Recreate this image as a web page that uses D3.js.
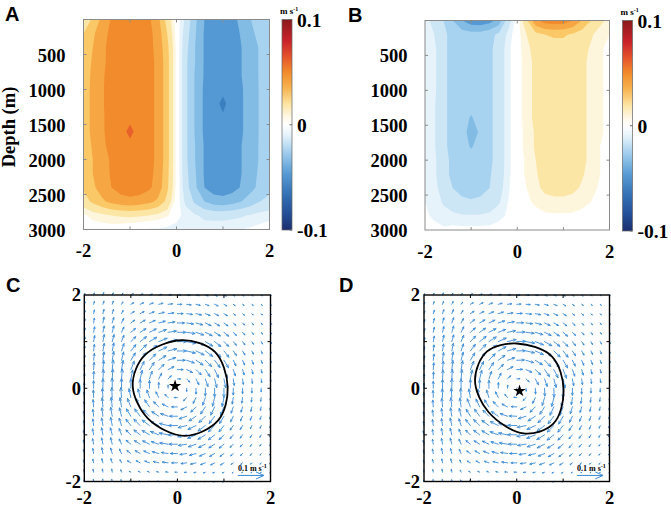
<!DOCTYPE html>
<html><head><meta charset="utf-8">
<script src="https://cdn.jsdelivr.net/npm/d3@7"></script>
<style>body{margin:0;background:#fff}svg{display:block}</style>
</head><body>
<svg id="chart" width="671" height="507"></svg>
<script>
// ---------------- DATA ----------------
const xGrid = [-2,-1.8,-1.6,-1.4,-1.2,-1,-0.8,-0.6,-0.4,-0.2,0,0.2,0.4,0.6,0.8,1,1.2,1.4,1.6,1.8,2];
const depthGrid = [0,200,400,600,800,1000,1200,1400,1600,1800,2000,2200,2400,2600,2800,3000];
const vecY = [2,1.8,1.6,1.4,1.2,1,0.8,0.6,0.4,0.2,0,-0.2,-0.4,-0.6,-0.8,-1,-1.2,-1.4,-1.6,-1.8,-2];

// panel A velocity section (mm/s), rows = depthGrid, cols = xGrid
const velA = [
[12,22,33,41,45,46,45,42,33,16,0,-12,-28,-40,-45,-46,-43,-37,-30,-24,-20],
[20,28,37,42,46,47,46,43,36,20,1,-15,-29,-41,-46,-47,-44,-39,-32,-27,-23],
[24,30,38,43,46,47,46,43,37,23,2,-17,-30,-41,-46,-47,-45,-40,-34,-29,-25],
[25,31,38,43,46,47,46,43,38,24,2,-18,-30,-41,-46,-47,-45,-40,-34,-29,-25],
[25,32,39,43,46,47,46,43,38,24,2,-18,-31,-41,-46,-47,-45,-40,-34,-29,-25],
[26,32,39,44,46,47,46,43,38,24,2,-18,-31,-42,-47,-48,-46,-41,-35,-29,-25],
[26,32,39,44,47,48,47,43,38,24,2,-18,-31,-42,-47,-52,-46,-41,-35,-29,-25],
[26,32,39,43,47,48,47,43,38,24,2,-18,-31,-42,-47,-49,-46,-41,-35,-29,-25],
[26,32,39,43,47,52,47,43,38,24,2,-18,-31,-42,-47,-48,-46,-41,-35,-29,-25],
[25,31,38,43,46,48,47,43,38,24,2,-18,-30,-41,-46,-47,-45,-40,-34,-29,-25],
[24,30,37,41,45,47,46,43,38,24,2,-18,-30,-41,-46,-47,-45,-40,-34,-29,-25],
[24,30,36,41,45,47,46,43,37,23,2,-17,-29,-41,-46,-47,-45,-40,-34,-28,-24],
[22,28,35,40,44,46,45,42,36,22,2,-16,-28,-40,-45,-46,-44,-39,-33,-27,-23],
[15,22,28,33,36,37,36,33,28,17,0,-12,-22,-30,-35,-36,-34,-30,-25,-20,-17],
[3,6,8,10,11,12,11,10,8,5,-2,-6,-9,-12,-13,-13,-12,-11,-9,-7,-6],
[0,0,0,0,-1,-3,-4,-5,-5,-6,-6,-6,-6,-6,-5,-5,-5,-4,-3,-2,-1]
];
// panel B velocity section (mm/s)
const velB = [
[-8,-12,-20,-30,-40,-46,-47,-44,-36,-15,0,18,38,45,47,46,40,30,20,12,8],
[-7,-10,-18,-23,-25,-26,-26,-23,-18,-8,1,10,17,20,21,21,19,15,11,7,4],
[-6,-8,-18,-23,-25,-26,-25,-22,-16,-6,1,8,13,16,17,17,16,13,9,5,2],
[-6,-8,-18,-23,-25,-26,-25,-22,-16,-6,1,7,12,15,16,16,15,12,8,5,2],
[-6,-8,-18,-23,-25,-26,-25,-22,-16,-6,1,7,12,15,16,16,15,12,8,5,2],
[-6,-8,-18,-23,-25,-26,-25,-22,-16,-6,1,7,12,15,16,16,15,12,8,5,2],
[-6,-9,-18,-23,-26,-27,-25,-22,-16,-6,1,7,12,15,16,17,15,12,8,5,2],
[-6,-9,-18,-23,-26,-31,-26,-22,-16,-6,1,7,12,15,16,17,15,12,8,5,2],
[-6,-9,-18,-23,-27,-33,-29,-22,-16,-6,1,6,11,15,16,17,15,12,8,5,2],
[-6,-9,-18,-23,-26,-31,-26,-22,-16,-6,1,6,11,15,16,16,15,12,8,4,2],
[-6,-8,-17,-22,-25,-26,-25,-22,-16,-6,1,5,10,14,16,16,15,12,8,4,1],
[-6,-8,-17,-22,-25,-26,-25,-21,-15,-6,1,5,9,14,16,16,15,11,7,4,1],
[-5,-7,-15,-20,-23,-24,-23,-20,-14,-5,1,4,8,12,13,13,12,9,6,3,1],
[-4,-6,-11,-15,-18,-19,-18,-16,-11,-4,0,3,5,7,8,8,7,6,4,2,0],
[-3,-5,-7,-8,-9,-9,-9,-8,-6,-3,0,1,2,3,3,3,3,2,1,0,0],
[-2,-2,-3,-2,-2,-2,-2,-2,-1,-1,0,0,0,0,-1,-2,-1,0,0,0,0]
];
const levels = [-50,-40,-30,-20,-10,-4,4,10,20,30,40,50];

// panel C horizontal velocity (mm/s), rows = vecY, cols = xGrid
const uC = [
[2,3,3,4,5,9,10,11,12,13,13,13,12,11,10,9,6,5,4,4,3],
[3,3,4,4,5,11,13,14,16,17,17,17,16,14,13,11,7,6,5,4,3],
[3,3,4,5,6,13,15,18,21,22,22,22,21,18,15,13,8,7,5,4,4],
[3,3,4,6,8,15,19,22,25,26,27,26,25,22,19,15,10,8,6,4,4],
[3,4,5,6,9,18,22,26,29,32,32,32,29,26,22,18,12,9,6,5,4],
[3,4,5,7,9,19,24,28,32,34,35,34,32,28,24,18,12,9,6,5,4],
[2,3,5,6,9,19,24,28,31,33,34,33,31,28,24,19,12,9,6,4,3],
[2,3,4,6,8,17,21,24,27,29,30,29,27,24,21,17,10,8,6,4,3],
[1,2,3,4,6,13,15,18,20,22,22,22,20,18,15,13,8,6,4,3,2],
[1,1,2,2,3,7,8,10,11,12,12,12,11,10,8,7,4,3,2,2,1],
[0,0,0,0,0,0,0,0,0,0,0,0,0,0,0,0,0,0,0,0,0],
[-1,-1,-2,-2,-3,-7,-8,-10,-11,-12,-12,-12,-11,-10,-8,-7,-4,-3,-2,-2,-1],
[-1,-2,-3,-4,-6,-13,-15,-18,-20,-22,-22,-22,-20,-18,-15,-13,-8,-6,-4,-3,-2],
[-2,-3,-4,-6,-8,-17,-21,-24,-27,-29,-30,-29,-27,-24,-21,-17,-10,-8,-6,-4,-3],
[-2,-3,-5,-6,-9,-19,-24,-28,-31,-33,-34,-33,-31,-28,-24,-19,-12,-9,-6,-4,-3],
[-3,-4,-5,-7,-9,-19,-24,-28,-32,-34,-35,-34,-32,-28,-24,-18,-12,-9,-6,-5,-4],
[-3,-4,-5,-6,-9,-18,-22,-26,-29,-32,-32,-32,-29,-26,-22,-18,-12,-9,-6,-5,-4],
[-3,-3,-4,-6,-8,-15,-19,-22,-25,-26,-27,-26,-25,-22,-19,-15,-10,-8,-6,-4,-4],
[-3,-3,-4,-5,-6,-13,-15,-18,-21,-22,-22,-22,-21,-18,-15,-13,-8,-7,-5,-4,-4],
[-2,-2,-2,-2,-3,-6,-7,-7,-8,-9,-9,-9,-8,-7,-7,-6,-4,-3,-3,-2,-2],
[-1,-1,-1,-2,-2,-4,-4,-4,-5,-5,-5,-5,-5,-4,-4,-4,-2,-2,-2,-2,-1]
];
// panel C vertical velocity (mm/s)
const vC = [
[6,8,9,8,7,5,4,3,2,1,0,-1,-2,-3,-4,-4,-4,-4,-4,-3,-3],
[9,11,12,12,9,6,6,5,4,2,0,-2,-4,-5,-6,-6,-5,-4,-4,-4,-4],
[11,14,16,16,12,8,8,7,5,3,0,-3,-5,-7,-8,-8,-6,-6,-5,-5,-4],
[15,19,22,21,17,11,11,10,7,4,0,-4,-7,-10,-11,-11,-9,-8,-7,-6,-5],
[16,21,24,25,20,15,14,13,10,5,0,-5,-10,-13,-14,-15,-12,-10,-8,-7,-6],
[17,23,27,27,24,19,19,17,13,7,0,-7,-13,-17,-19,-18,-14,-12,-10,-9,-7],
[18,25,29,31,28,24,24,21,15,8,0,-8,-15,-21,-24,-24,-17,-15,-12,-10,-8],
[19,26,32,34,32,28,28,24,18,10,0,-10,-18,-24,-28,-28,-21,-18,-15,-12,-9],
[20,28,35,37,35,32,31,27,20,11,0,-11,-20,-27,-31,-32,-24,-20,-17,-13,-10],
[21,29,36,38,38,34,33,29,22,12,0,-12,-22,-29,-33,-34,-25,-21,-17,-14,-10],
[21,29,36,39,38,35,34,30,22,12,0,-12,-22,-30,-34,-35,-26,-21,-18,-14,-10],
[21,29,36,38,38,34,33,29,22,12,0,-12,-22,-29,-33,-34,-25,-21,-17,-14,-10],
[20,28,35,37,35,32,31,27,20,11,0,-11,-20,-27,-31,-32,-24,-20,-17,-13,-10],
[19,26,32,34,32,28,28,24,18,10,0,-10,-18,-24,-28,-28,-21,-18,-15,-12,-9],
[18,25,29,31,28,24,24,21,15,8,0,-8,-15,-21,-24,-24,-17,-15,-12,-10,-8],
[17,23,27,27,24,19,19,17,13,7,0,-7,-13,-17,-19,-18,-14,-12,-10,-9,-7],
[16,21,24,25,20,15,14,13,10,5,0,-5,-10,-13,-14,-15,-12,-10,-8,-7,-6],
[15,19,22,21,17,11,11,10,7,4,0,-4,-7,-10,-11,-11,-9,-8,-7,-6,-5],
[11,14,16,16,12,8,8,7,5,3,0,-3,-5,-7,-8,-8,-6,-6,-5,-5,-4],
[9,11,12,12,9,3,3,3,2,1,0,-1,-2,-3,-3,-3,-3,-2,-2,-2,-2],
[6,8,9,8,7,2,2,1,1,0,0,0,-1,-1,-2,-2,-2,-2,-2,-1,-1]
];
// panel D horizontal velocity (mm/s)
const uD = [
[2,3,3,4,5,8,9,10,11,12,12,12,11,10,9,8,6,5,4,3,3],
[3,3,4,5,6,11,13,14,15,16,16,16,15,14,12,10,7,6,5,4,3],
[3,4,5,6,7,14,16,18,20,21,21,21,20,17,15,12,8,7,5,4,3],
[3,4,5,7,9,16,20,23,25,26,26,25,24,21,18,14,10,8,6,4,3],
[3,4,5,7,10,19,23,27,29,31,31,31,29,25,21,17,12,9,6,5,4],
[3,4,5,7,10,20,25,28,31,33,34,33,31,28,23,18,12,9,6,5,4],
[2,3,4,6,9,19,24,28,30,32,33,32,31,28,24,19,12,9,6,4,3],
[2,3,4,5,8,17,21,24,26,28,29,29,27,24,21,17,11,8,6,4,3],
[1,2,3,4,6,13,15,18,20,21,22,22,21,19,16,13,9,6,4,3,2],
[1,1,2,2,3,7,8,10,11,12,12,12,12,10,9,7,5,3,2,2,1],
[0,0,0,0,0,0,0,0,1,1,1,1,1,1,1,0,0,0,0,0,0],
[-1,-1,-1,-2,-2,-6,-7,-9,-10,-10,-11,-11,-10,-9,-8,-6,-4,-3,-2,-2,-1],
[-1,-2,-3,-4,-5,-12,-14,-17,-19,-21,-21,-21,-20,-18,-15,-13,-8,-6,-4,-3,-2],
[-2,-3,-4,-5,-7,-16,-20,-23,-26,-28,-29,-29,-28,-25,-22,-17,-11,-8,-6,-4,-3],
[-2,-3,-4,-6,-8,-18,-23,-27,-30,-33,-34,-34,-32,-29,-25,-20,-13,-9,-6,-4,-3],
[-3,-3,-4,-6,-8,-18,-23,-27,-31,-34,-35,-35,-33,-30,-26,-20,-13,-10,-7,-5,-4],
[-3,-3,-4,-6,-8,-17,-21,-25,-28,-31,-32,-32,-31,-28,-24,-19,-13,-10,-7,-5,-4],
[-2,-3,-4,-5,-7,-14,-18,-21,-24,-26,-27,-27,-26,-24,-21,-16,-11,-9,-6,-5,-4],
[-2,-3,-3,-4,-5,-12,-14,-17,-20,-22,-22,-22,-21,-19,-16,-13,-9,-7,-5,-4,-3],
[-1,-2,-2,-2,-3,-6,-7,-8,-9,-10,-10,-10,-9,-8,-7,-6,-4,-3,-3,-2,-2],
[-1,-1,-1,-1,-2,-3,-4,-4,-4,-5,-5,-5,-5,-4,-4,-3,-2,-2,-2,-1,-1]
];
// panel D vertical velocity (mm/s)
const vD = [
[5,7,8,7,6,5,4,3,2,1,0,-1,-2,-3,-3,-4,-4,-4,-3,-3,-3],
[8,10,11,11,8,6,6,5,4,2,1,-1,-3,-4,-5,-6,-5,-4,-4,-4,-3],
[10,13,15,15,12,9,8,7,6,3,1,-2,-4,-6,-7,-8,-6,-6,-5,-5,-4],
[13,17,20,20,17,13,12,11,8,5,1,-3,-6,-9,-10,-11,-9,-8,-7,-6,-5],
[14,19,22,24,21,17,16,14,11,6,1,-4,-9,-12,-14,-15,-12,-10,-9,-7,-6],
[15,21,25,26,24,21,20,18,14,8,1,-6,-12,-16,-18,-18,-15,-13,-11,-9,-7],
[16,23,27,29,27,25,25,22,16,9,1,-7,-14,-20,-23,-24,-18,-16,-13,-11,-8],
[17,24,30,32,31,28,28,25,19,10,1,-9,-17,-24,-28,-29,-22,-19,-16,-12,-9],
[18,26,33,35,34,32,31,27,20,11,1,-10,-20,-27,-31,-33,-25,-21,-17,-13,-10],
[19,27,34,36,36,34,33,29,22,12,1,-11,-22,-29,-33,-35,-26,-22,-18,-14,-10],
[19,27,34,37,36,34,33,30,22,12,1,-11,-22,-30,-34,-36,-27,-22,-18,-14,-10],
[19,27,34,36,36,33,32,29,22,12,1,-11,-22,-30,-34,-35,-27,-22,-18,-14,-10],
[18,26,33,35,34,31,30,27,20,11,1,-10,-20,-28,-32,-33,-26,-21,-17,-13,-10],
[17,24,30,32,30,27,27,23,18,10,1,-9,-18,-25,-29,-30,-23,-19,-16,-12,-9],
[16,23,27,29,26,23,23,20,15,8,1,-7,-15,-22,-25,-25,-19,-16,-13,-10,-8],
[15,21,25,25,22,18,18,16,12,7,1,-6,-13,-18,-20,-20,-15,-13,-11,-9,-7],
[14,19,22,23,19,14,13,12,9,5,0,-5,-10,-14,-15,-16,-13,-11,-9,-7,-6],
[13,17,20,19,16,10,10,9,7,4,0,-4,-7,-10,-12,-12,-10,-8,-7,-6,-5],
[10,13,15,15,11,7,7,6,5,3,0,-3,-5,-7,-8,-8,-7,-6,-5,-5,-4],
[8,10,11,11,8,3,3,3,2,1,0,-1,-2,-3,-3,-4,-3,-3,-2,-2,-2],
[5,7,8,7,6,2,2,1,1,0,0,0,-1,-1,-2,-2,-2,-2,-2,-1,-1]
];
// eddy boundaries and centres
const eddyC = [[0.09,1.03],[0.805,0.78],[1.08,0.03],[0.875,-0.69],[0.16,-1.02],[-0.63,-0.65],[-0.96,0.06],[-0.70,0.71]];
const eddyD = [[0.0,0.96],[0.76,0.68],[1.01,-0.04],[0.79,-0.76],[0.15,-0.97],[-0.61,-0.51],[-0.90,0.18],[-0.64,0.79]];
const starC = [-0.05,0.05];
const starD = [0.06,-0.06];
const refArrowSpeed = 100; // mm/s = 0.1 m/s
const depthTicks = [500,1000,1500,2000,2500,3000];
const xLabelTicks = [-2,0,2];
const xMinorTicks = [-1,0,1];
const cbarTicks = [0.1,0,-0.1];

// ---------------- STYLE ----------------
const bandColors = ['#3a7fc0','#5499d3','#82bce5','#a8d3f0','#cde6f6','#e7f3fb','#ffffff',
                    '#fef6dc','#fce6a6','#fac866','#f6a744','#f28b2b','#e8602a'];
const cmapDomain = [-0.1,-0.085,-0.065,-0.045,-0.025,-0.01,0,0.008,0.02,0.035,0.05,0.065,0.08,0.1];
const cmapRange  = ['#1b2f6e','#234e96','#3572b6','#5a9ed6','#a6d0ee','#e6f3fb','#ffffff','#fef7e4','#fce3a0','#f7b34f','#f28b2b','#e5512b','#c8232a','#8a1a1c'];
const serif = '"Liberation Serif","Times New Roman",serif';
const sans = '"Liberation Sans",Arial,sans-serif';
const arrowColor = '#3b8bd6';
const tickFont = 18.5;

const svg = d3.select('#chart');
const defs = svg.append('defs');
const cmap = d3.scaleLinear().domain(cmapDomain).range(cmapRange);

function txt(x, y, s, size, anchor, fam) {
  return svg.append('text').attr('x', x).attr('y', y).text(s)
    .attr('font-family', fam || serif).attr('font-weight', 'bold')
    .attr('font-size', size).attr('text-anchor', anchor || 'start').attr('fill', '#000');
}

function contourPanel(id, box, data, labelEnd, cb) {
  const xs = d3.scaleLinear().domain([-2, 2]).range([box.x0, box.x1]);
  const ys = d3.scaleLinear().domain([0, 3000]).range([box.y0, box.y1]);
  defs.append('clipPath').attr('id', 'clip' + id).append('rect')
    .attr('x', box.x0).attr('y', box.y0).attr('width', box.x1 - box.x0).attr('height', box.y1 - box.y0);
  const g = svg.append('g').attr('clip-path', 'url(#clip' + id + ')');
  const nx = xGrid.length, ny = depthGrid.length;
  const dx = xGrid[1] - xGrid[0], dd = depthGrid[1] - depthGrid[0];
  const proj = d3.geoTransform({ point(px, py) {
    this.stream.point(xs(xGrid[0] + (px - 0.5) * dx), ys(depthGrid[0] + (py - 0.5) * dd)); } });
  const path = d3.geoPath(proj);
  const conts = d3.contours().size([nx, ny]).thresholds(levels)(data.flat());
  g.append('rect').attr('x', box.x0).attr('y', box.y0).attr('width', box.x1 - box.x0)
    .attr('height', box.y1 - box.y0).attr('fill', bandColors[0]);
  conts.forEach((c, k) => g.append('path').attr('d', path(c)).attr('fill', bandColors[k + 1]));
  const frameCol = '#8a8a8a';
  svg.append('rect').attr('x', box.x0).attr('y', box.y0).attr('width', box.x1 - box.x0)
    .attr('height', box.y1 - box.y0).attr('fill', 'none').attr('stroke', frameCol).attr('stroke-width', 1);
  depthTicks.slice(0, -1).forEach(d => {
    svg.append('line').attr('x1', box.x0).attr('x2', box.x0 + 3).attr('y1', ys(d)).attr('y2', ys(d)).attr('stroke', frameCol);
    svg.append('line').attr('x1', box.x1).attr('x2', box.x1 - 3).attr('y1', ys(d)).attr('y2', ys(d)).attr('stroke', frameCol);
  });
  xMinorTicks.forEach(v => {
    svg.append('line').attr('x1', xs(v)).attr('x2', xs(v)).attr('y1', box.y1).attr('y2', box.y1 - 3).attr('stroke', frameCol);
    svg.append('line').attr('x1', xs(v)).attr('x2', xs(v)).attr('y1', box.y0).attr('y2', box.y0 + 3).attr('stroke', frameCol);
  });
  depthTicks.forEach(d => txt(labelEnd, ys(d) + 7, d, tickFont, 'end'));
  xLabelTicks.forEach(v => txt(xs(v), box.y1 + 27.5, v, tickFont, 'middle'));
  // colorbar
  const cys = d3.scaleLinear().domain([-0.1, 0.1]).range([cb.y1, cb.y0]);
  const grad = defs.append('linearGradient').attr('id', 'grad' + id)
    .attr('x1', 0).attr('y1', 1).attr('x2', 0).attr('y2', 0);
  d3.range(0, 1.0001, 0.02).forEach(t => {
    grad.append('stop').attr('offset', t).attr('stop-color', cmap(-0.1 + 0.2 * t));
  });
  svg.append('rect').attr('x', cb.x).attr('y', cb.y0).attr('width', 10).attr('height', cb.y1 - cb.y0)
    .attr('fill', 'url(#grad' + id + ')').attr('stroke', '#666').attr('stroke-width', 0.7);
  cbarTicks.forEach(v => {
    svg.append('line').attr('x1', cb.x + 10).attr('x2', cb.x + 7.5).attr('y1', cys(v)).attr('y2', cys(v)).attr('stroke', '#666');
    txt(cb.x + 15, cys(v) + 7, v === 0 ? '0' : (v > 0 ? '0.1' : '-0.1'), 19.5, 'start');
  });
  const u = txt(cb.x - 2, cb.y0 - 6, 'm s', 9, 'start');
  u.append('tspan').attr('dy', -3).attr('font-size', 6).text('-1');
}

function vectorPanel(id, box, U, V, eddy, star, labelEnd) {
  const xs = d3.scaleLinear().domain([-2, 2]).range([box.x0, box.x1]);
  const ys = d3.scaleLinear().domain([-2, 2]).range([box.y1, box.y0]);
  const len = d3.scaleLinear().domain([0, 100]).range([0, 26]);
  const g = svg.append('g');
  function arrow(x0, y0, u, v) {
    const ex = len(u), ey = -len(v);
    const L = Math.hypot(ex, ey);
    if (L < 0.01) return '';
    const x1 = x0 + ex, y1 = y0 + ey;
    const ang = Math.atan2(ey, ex), h = L * 0.33, a = 0.42;
    const p1 = [x1 - h * Math.cos(ang - a), y1 - h * Math.sin(ang - a)];
    const p2 = [x1 - h * Math.cos(ang + a), y1 - h * Math.sin(ang + a)];
    return `M${x0},${y0}L${x1},${y1}M${p1[0]},${p1[1]}L${x1},${y1}L${p2[0]},${p2[1]}`;
  }
  let d = '';
  vecY.forEach((yv, r) => xGrid.forEach((xv, c) => { d += arrow(xs(xv), ys(yv), U[r][c], V[r][c]); }));
  g.append('path').attr('d', d).attr('fill', 'none').attr('stroke', arrowColor).attr('stroke-width', 0.9)
    .attr('stroke-linecap', 'round');
  const line = d3.line().x(p => xs(p[0])).y(p => ys(p[1])).curve(d3.curveCatmullRomClosed.alpha(0.5));
  svg.append('path').attr('d', line(eddy)).attr('fill', 'none').attr('stroke', '#000').attr('stroke-width', 1.8);
  svg.append('path').attr('d', d3.symbol(d3.symbolStar, 48)()).attr('transform', `translate(${xs(star[0])},${ys(star[1])})`)
    .attr('fill', '#000');
  svg.append('rect').attr('x', box.x0).attr('y', box.y0).attr('width', box.x1 - box.x0)
    .attr('height', box.y1 - box.y0).attr('fill', 'none').attr('stroke', '#000').attr('stroke-width', 1.4);
  xMinorTicks.forEach(v => {
    svg.append('line').attr('x1', xs(v)).attr('x2', xs(v)).attr('y1', box.y1).attr('y2', box.y1 - 3).attr('stroke', '#000');
    svg.append('line').attr('x1', xs(v)).attr('x2', xs(v)).attr('y1', box.y0).attr('y2', box.y0 + 3).attr('stroke', '#000');
    svg.append('line').attr('y1', ys(v)).attr('y2', ys(v)).attr('x1', box.x0).attr('x2', box.x0 + 3).attr('stroke', '#000');
    svg.append('line').attr('y1', ys(v)).attr('y2', ys(v)).attr('x1', box.x1).attr('x2', box.x1 - 3).attr('stroke', '#000');
  });
  xLabelTicks.forEach(v => txt(xs(v), box.y1 + 22, v, tickFont, 'middle'));
  xLabelTicks.forEach(v => txt(labelEnd, ys(v) + 6.3, v, tickFont, 'end'));
  const rx = xs(1.3), ry = ys(-1.87);
  svg.append('path').attr('d', arrow(rx, ry, refArrowSpeed, 0)).attr('fill', 'none')
    .attr('stroke', arrowColor).attr('stroke-width', 1);
  const t = txt(rx, ry - 4.5, '0.1 m s', 8, 'start');
  t.append('tspan').attr('dy', -3).attr('font-size', 6).text('-1');
}

contourPanel('A', {x0: 83.5, x1: 269.5, y0: 19.5, y1: 229.5}, velA, 65.5, {x: 282, y0: 19.5, y1: 230});
contourPanel('B', {x0: 425, x1: 609.5, y0: 20.5, y1: 230}, velB, 407.5, {x: 622.5, y0: 20.5, y1: 231});
vectorPanel('C', {x0: 84.3, x1: 270.5, y0: 295, y1: 481.5}, uC, vC, eddyC, starC, 81);
vectorPanel('D', {x0: 424, x1: 609.5, y0: 295, y1: 481.5}, uD, vD, eddyD, starD, 420);

txt(5, 21, 'A', 20, 'start', sans);
txt(348, 21.5, 'B', 20, 'start', sans);
txt(6, 292, 'C', 20, 'start', sans);
txt(339, 292, 'D', 20, 'start', sans);
txt(0, 0, 'Depth (m)', 18.5, 'middle').attr('transform', 'translate(14.5,127) rotate(-90)');
</script>
</body></html>
